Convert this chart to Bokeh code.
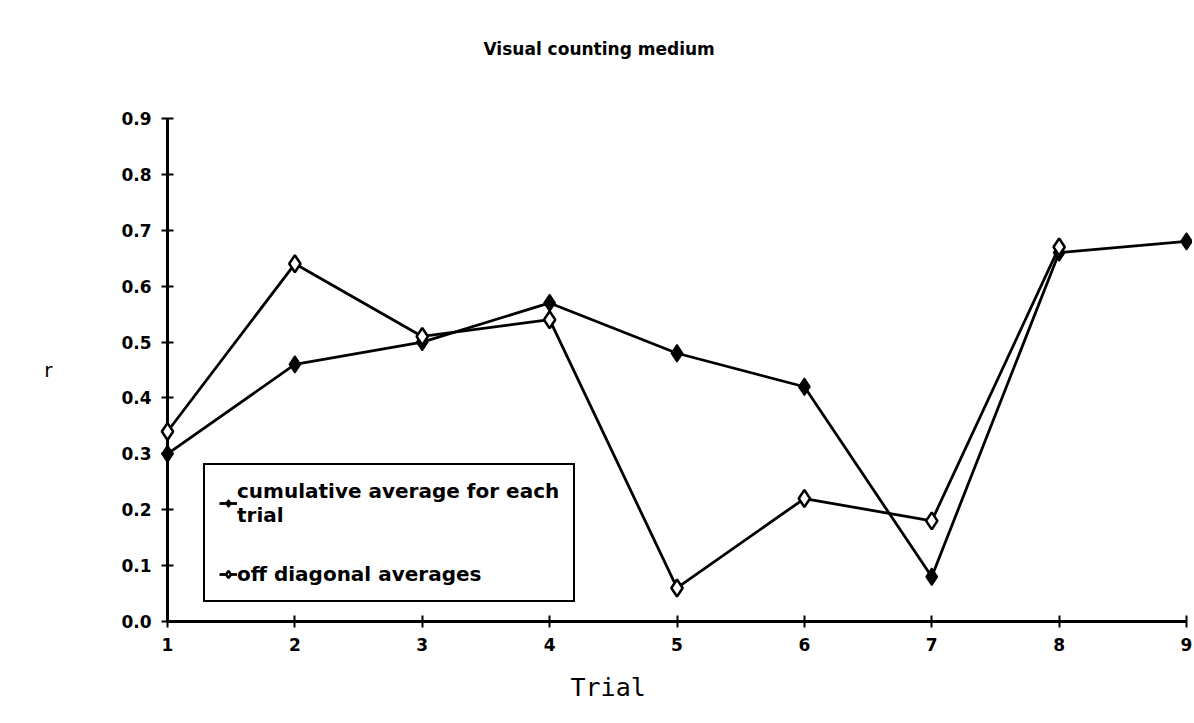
from bokeh.plotting import figure
from bokeh.models import (Range1d, Legend, LegendItem, FixedTicker, Title,
                          LinearAxis)
from bokeh.embed import file_html
from bokeh.resources import INLINE

trials = [1, 2, 3, 4, 5, 6, 7, 8, 9]
cumulative = [0.30, 0.46, 0.50, 0.57, 0.48, 0.42, 0.08, 0.66, 0.68]
off_trials = [1, 2, 3, 4, 5, 6, 7, 8]
off_diagonal = [0.34, 0.64, 0.51, 0.54, 0.06, 0.22, 0.18, 0.67]
y_ticks = [0.0, 0.1, 0.2, 0.3, 0.4, 0.5, 0.6, 0.7, 0.8, 0.9]
y_tick_labels = {t: f"{t:.1f}" for t in y_ticks}
title_text = "Visual counting medium"
x_label_text = "Trial"

FONT = "DejaVu Sans"

p = figure(width=1192, height=723, output_backend="svg", toolbar_location=None,
           x_range=Range1d(1, 9), y_range=Range1d(0, 0.9),
           min_border_left=167, min_border_right=6, min_border_top=118,
           min_border_bottom=102)
p.outline_line_color = None
p.grid.visible = False
p.background_fill_color = "white"
p.border_fill_color = "white"

xax = p.below[0]
yax = p.left[0]

for ax in (xax, yax):
    ax.axis_line_width = 3
    ax.axis_line_color = "black"
    ax.major_tick_line_width = 2
    ax.major_tick_line_color = "black"
    ax.major_tick_in = 6
    ax.major_tick_out = 6
    ax.minor_tick_line_color = None
    ax.major_label_text_font = FONT
    ax.major_label_text_font_size = "17px"
    ax.major_label_text_font_style = "bold"
    ax.major_label_text_color = "black"

xax.ticker = FixedTicker(ticks=trials)
xax.major_label_standoff = 10

yax.ticker = FixedTicker(ticks=y_ticks)
yax.major_label_overrides = y_tick_labels
yax.major_label_standoff = 10
yax.axis_label = "r"
yax.axis_label_orientation = "horizontal"
yax.axis_label_text_font = FONT
yax.axis_label_text_font_size = "20px"
yax.axis_label_text_font_style = "normal"
yax.axis_label_text_color = "black"
yax.axis_label_standoff = 66

p.title = Title(text=title_text, align="left", offset=316,
                text_font=FONT, text_font_size="17px", text_font_style="bold",
                text_color="black", standoff=10)

# invisible spacer between the frame and the title
spacer = LinearAxis(ticker=FixedTicker(ticks=[5]), major_label_overrides={5: ""},
                    axis_line_color=None, major_tick_line_color=None,
                    minor_tick_line_color=None, major_label_text_font_size="1px",
                    major_tick_in=0, major_tick_out=55, major_label_standoff=0)
p.add_layout(spacer, "above")

xlabel = Title(text=x_label_text, align="left", offset=403,
               text_font="DejaVu Sans Mono", text_font_size="25px",
               text_font_style="normal", text_color="black", standoff=35)
p.add_layout(xlabel, "below")

l1 = p.line(trials, cumulative, line_color="black", line_width=2.8, level="overlay")
m1 = p.scatter(trials, cumulative, marker="diamond", size=17, fill_color="black",
               line_color="black", line_width=1.5, level="overlay")
l2 = p.line(off_trials, off_diagonal, line_color="black", line_width=2.8, level="overlay")
m2 = p.scatter(off_trials, off_diagonal, marker="diamond", size=17, fill_color="white",
               line_color="black", line_width=2.5, level="overlay")

legend = Legend(items=[
    LegendItem(label="cumulative average for each\ntrial", renderers=[l1, m1]),
    LegendItem(label="off diagonal averages", renderers=[l2, m2]),
], location=(36, 19))
legend.border_line_color = "black"
legend.border_line_alpha = 1.0
legend.border_line_width = 2.5
legend.background_fill_alpha = 1
legend.label_text_font = FONT
legend.label_text_font_size = "20px"
legend.label_text_font_style = "bold"
legend.label_text_color = "black"
legend.glyph_width = 18
legend.label_standoff = 0
legend.padding = 14
legend.spacing = 35
legend.margin = 0
p.add_layout(legend, "center")

open("out.html", "w").write(file_html(p, INLINE))
